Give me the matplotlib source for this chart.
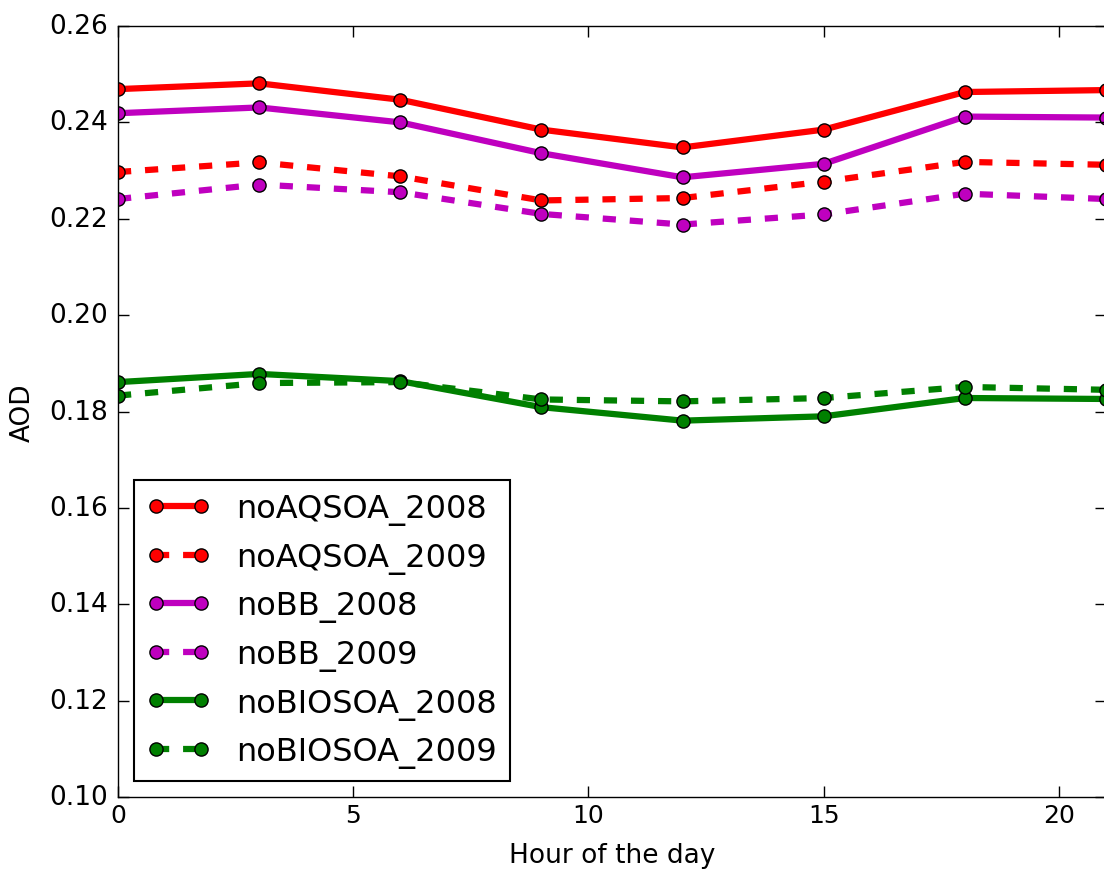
import matplotlib
matplotlib.use('Agg')
import matplotlib.pyplot as plt

plt.style.use('classic')

hours = [0, 3, 6, 9, 12, 15, 18, 21]

noAQSOA_2008 = [0.2469, 0.2481, 0.2447, 0.2385, 0.2348, 0.2385, 0.2463, 0.2467]
noAQSOA_2009 = [0.2297, 0.2317, 0.2288, 0.2238, 0.2243, 0.2277, 0.2318, 0.2312]
noBB_2008 = [0.2419, 0.2431, 0.2400, 0.2336, 0.2286, 0.2314, 0.2412, 0.2410]
noBB_2009 = [0.2241, 0.2271, 0.2255, 0.2210, 0.2188, 0.2209, 0.2252, 0.2241]
noBIOSOA_2008 = [0.1861, 0.1878, 0.1863, 0.1809, 0.1781, 0.1790, 0.1828, 0.1826]
noBIOSOA_2009 = [0.1833, 0.1859, 0.1861, 0.1825, 0.1821, 0.1828, 0.1851, 0.1845]

series = [
    ('noAQSOA_2008', noAQSOA_2008, 'r', '-'),
    ('noAQSOA_2009', noAQSOA_2009, 'r', '--'),
    ('noBB_2008', noBB_2008, 'm', '-'),
    ('noBB_2009', noBB_2009, 'm', '--'),
    ('noBIOSOA_2008', noBIOSOA_2008, 'g', '-'),
    ('noBIOSOA_2009', noBIOSOA_2009, 'g', '--'),
]

fig = plt.figure(figsize=(11.04, 8.7), dpi=100, facecolor='white')
ax = fig.add_axes([118/1104, 72/870, 988/1104, 771/870])

for name, vals, c, ls in series:
    line, = ax.plot(hours, vals, color=c, linestyle=ls, lw=4.5, marker='o',
                    ms=9.5, mec='k', mew=1, label=name)
    if ls == '--':
        line.set_dashes([9.5, 10])

ax.set_xlim(0, 21)
ax.set_ylim(0.10, 0.26)
ax.set_yticks([0.10, 0.12, 0.14, 0.16, 0.18, 0.20, 0.22, 0.24, 0.26])
ax.set_yticklabels(['%.2f' % v for v in ax.get_yticks()], fontsize=19)
ax.set_xticks([0, 5, 10, 15, 20])
ax.set_xticklabels(['0', '5', '10', '15', '20'], fontsize=18)
ax.tick_params(length=8, width=1)
ax.tick_params(axis='y', pad=7)
ax.set_xlabel('Hour of the day', fontsize=19, labelpad=11)
ax.set_ylabel('AOD', fontsize=19, labelpad=10)

leg = ax.legend(loc='lower left', fontsize=23, numpoints=2, fancybox=False,
                borderaxespad=0.5, handlelength=2.0, labelspacing=0.52)
leg.get_frame().set_linewidth(1.5)

fig.savefig('out.png', dpi=100, facecolor='white')
